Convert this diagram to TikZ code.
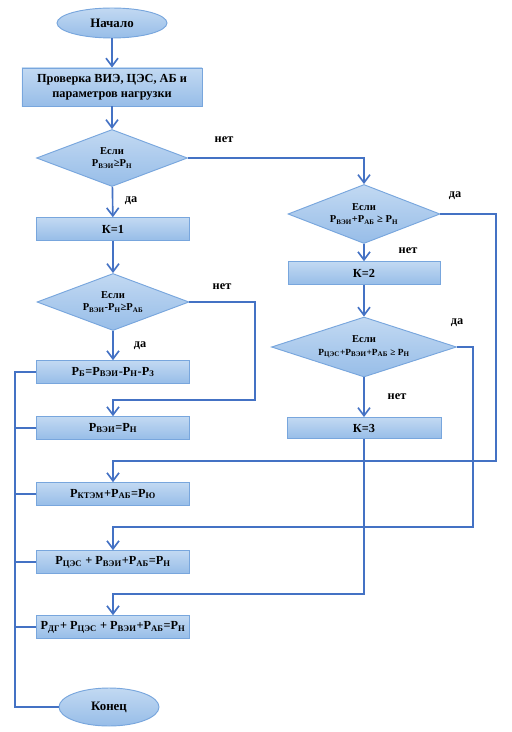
\documentclass[tikz,border=0pt]{standalone}
\usepackage{fontspec}
\setmainfont{Liberation Serif}
\usetikzlibrary{shapes.geometric, arrows.meta, positioning}

\definecolor{flowline}{HTML}{4472C4}
\definecolor{boxtop}{HTML}{C2D9F2}
\definecolor{boxbot}{HTML}{97BDE8}
\definecolor{boxrim}{HTML}{78A6DD}

\newcommand{\lo}[1]{\textsubscript{#1}}

\tikzset{
  block/.style={rectangle, draw=boxrim, thick, top color=boxtop, bottom color=boxbot,
    minimum width=4.59cm, minimum height=0.68cm, inner sep=1pt, align=center,
    font=\bfseries\fontsize{10.5}{13}\selectfont},
  cond/.style={diamond, draw=boxrim, thick, top color=boxtop, bottom color=boxbot,
    inner sep=0pt, aspect=2.6, align=center, font=\bfseries\fontsize{9}{10.5}\selectfont},
  term/.style={ellipse, draw=boxrim, thick, top color=boxtop, bottom color=boxbot,
    inner sep=0pt, font=\bfseries\fontsize{11}{13}\selectfont},
  flow/.style={draw=flowline, line width=1.4pt, -{Straight Barb[length=2.4mm, width=3.6mm]}},
  bus/.style={draw=flowline, line width=1.4pt},
  answer/.style={font=\bfseries\fontsize{10.5}{12}\selectfont}
}

\begin{document}
\begin{tikzpicture}[x=0.03cm, y=-0.03cm]
  \useasboundingbox (0,0) rectangle (512,732);

  % left column
  \node[term, minimum width=3.3cm, minimum height=0.9cm] (start) at (112,23) {Начало};
  \node[block, minimum width=5.4cm, minimum height=1.14cm] (check) at (112,87)
    {Проверка ВИЭ, ЦЭС, АБ и\\ параметров нагрузки};
  \node[cond, minimum width=4.53cm, minimum height=1.71cm] (d1) at (112,158)
    {Если\\ Р\lo{ВЭИ}≥Р\lo{Н}};
  \node[block] (k1) at (113,229) {К=1};
  \node[cond, minimum width=4.56cm, minimum height=1.71cm] (d2) at (113,302)
    {Если\\ Р\lo{ВЭИ}-Р\lo{Н}≥Р\lo{АБ}};
  \node[block] (pb) at (113,372) {Р\lo{Б}=Р\lo{ВЭИ}-Р\lo{Н}-Р\lo{З}};
  \node[block] (pv) at (113,428) {Р\lo{ВЭИ}=Р\lo{Н}};
  \node[block] (pk) at (113,494) {Р\lo{КТЭМ}+Р\lo{АБ}=Р\lo{Ю}};
  \node[block] (pc) at (113,562) {Р\lo{ЦЭС} + Р\lo{ВЭИ}+Р\lo{АБ}=Р\lo{Н}};
  \node[block] (pd) at (113,627) {Р\lo{ДГ}+ Р\lo{ЦЭС} + Р\lo{ВЭИ}+Р\lo{АБ}=Р\lo{Н}};
  \node[term, minimum width=3.0cm, minimum height=1.14cm] (end) at (109,707) {Конец};

  % right column
  \node[cond, minimum width=4.56cm, minimum height=1.77cm] (d3) at (364,214)
    {Если\\ Р\lo{ВЭИ}+Р\lo{АБ} ≥ Р\lo{Н}};
  \node[block, minimum width=4.56cm] (k2) at (364,273) {К=2};
  \node[cond, minimum width=5.55cm, minimum height=1.8cm,
    font=\bfseries\fontsize{8}{10.5}\selectfont] (d4) at (364,347)
    {\fontsize{9}{10.5}\selectfont Если\\ Р\lo{ЦЭС}+Р\lo{ВЭИ}+Р\lo{АБ} ≥ Р\lo{Н}};
  \node[block, minimum width=4.62cm, minimum height=0.63cm] (k3) at (364,428) {К=3};

  % answers
  \node[answer] (no1) at (224,140) {нет};
  \node[answer] (yes1) at (131,201) {да};
  \node[answer] (no2) at (222,287) {нет};
  \node[answer] (yes2) at (140,346) {да};
  \node[answer] (yes3) at (455,196) {да};
  \node[answer] (no3) at (408,251) {нет};
  \node[answer] (yes4) at (457,323) {да};
  \node[answer] (no4) at (397,397) {нет};

  % turning points
  \coordinate (c2) at (255,400);
  \coordinate (c3) at (496,461);
  \coordinate (c4) at (473,527);
  \coordinate (c5) at (364,594);
  \coordinate (busend) at (15,707);

  \path[flow]
    (start) edge (check)
    (check) edge (d1)
    (d1) edge (k1)
    (k1) edge (d2)
    (d2) edge (pb)
    (d3) edge (k2)
    (k2) edge (d4)
    (d4) edge (k3);
  \draw[flow] (d1.east) -| (d3.north);
  \draw[flow] (d2.east) -| (c2) -| (pv.north);
  \draw[flow] (d3.east) -| (c3) -| (pk.north);
  \draw[flow] (d4.east) -| (c4) -| (pc.north);
  \draw[flow] (k3.south) -- (c5) -| (pd.north);

  % collecting line
  \draw[bus] (pb.west) -| (busend) -- (end.west);
  \draw[bus] (pv.west) -- (pv.west -| busend);
  \draw[bus] (pk.west) -- (pk.west -| busend);
  \draw[bus] (pc.west) -- (pc.west -| busend);
  \draw[bus] (pd.west) -- (pd.west -| busend);
\end{tikzpicture}
\end{document}
